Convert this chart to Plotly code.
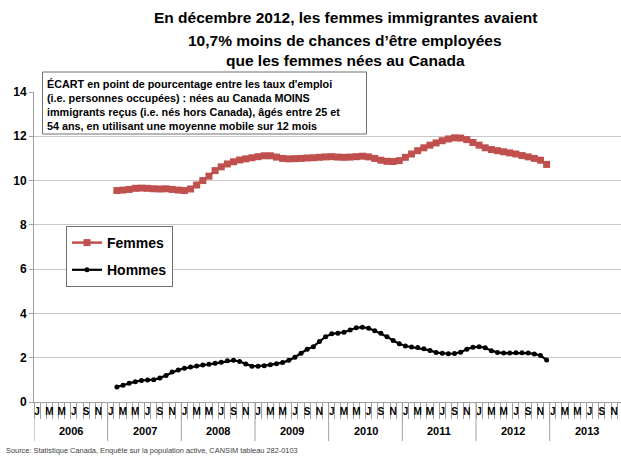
import plotly.graph_objects as go

# ---------------- data ----------------
first_month = "2007-02"   # first plotted month
last_month = "2012-12"

femmes = [9.55, 9.57, 9.60, 9.65, 9.66, 9.65, 9.63, 9.62, 9.63, 9.60, 9.57,
          9.55, 9.62, 9.80, 10.00, 10.20, 10.45, 10.62, 10.75, 10.85, 10.93, 10.98, 11.03,
          11.08, 11.12, 11.12, 11.06, 11.00, 10.98, 10.99, 11.00, 11.02, 11.03, 11.05, 11.07,
          11.08, 11.06, 11.05, 11.06, 11.08, 11.10, 11.07, 11.00, 10.92, 10.87, 10.86, 10.90,
          11.05, 11.20, 11.35, 11.48, 11.60, 11.70, 11.80, 11.88, 11.93, 11.92, 11.85, 11.72,
          11.60, 11.48, 11.40, 11.35, 11.30, 11.25, 11.20, 11.13, 11.07, 11.00, 10.92, 10.73]

hommes = [0.68, 0.76, 0.85, 0.92, 0.97, 0.99, 1.01, 1.08, 1.20, 1.35, 1.45,
          1.52, 1.58, 1.63, 1.67, 1.70, 1.75, 1.80, 1.86, 1.88, 1.83, 1.72, 1.62,
          1.62, 1.64, 1.68, 1.73, 1.78, 1.88, 2.02, 2.20, 2.38, 2.50, 2.73, 2.95,
          3.08, 3.10, 3.15, 3.25, 3.35, 3.38, 3.33, 3.22, 3.10, 2.95, 2.78, 2.63,
          2.53, 2.48, 2.46, 2.40, 2.33, 2.23, 2.20, 2.18, 2.19, 2.25, 2.38, 2.47,
          2.50, 2.45, 2.32, 2.24, 2.21, 2.21, 2.22, 2.22, 2.21, 2.17, 2.10, 1.90]

years = [2006, 2007, 2008, 2009, 2010, 2011, 2012, 2013]
month_letters = ["J", "M", "M", "J", "S", "N"]
y_ticks = [0, 2, 4, 6, 8, 10, 12, 14]

title_lines = ["En décembre 2012, les femmes immigrantes avaient",
               "10,7% moins de chances d’être employées",
               "que les femmes nées au Canada"]
box_lines = ["ÉCART en point de pourcentage entre les taux d'emploi",
             "(i.e. personnes occupées) : nées au Canada MOINS",
             "immigrants reçus (i.e. nés hors Canada), âgés entre 25 et",
             "54 ans, en utilisant une moyenne mobile sur 12 mois"]
source_text = "Source: Statistique Canada, Enquête sur la population active, CANSIM tableau 282-0103"

# ---------------- positions (month index from Jan of first year) ----------------
y0 = years[0]
fy, fm = map(int, first_month.split("-"))
start_idx = (fy - y0) * 12 + (fm - 1)
x_vals = [start_idx + i + 0.5 for i in range(len(femmes))]

n_months = len(years) * 12
major_vals = [m + 0.5 for m in range(0, n_months, 2)]
major_text = [month_letters[(m % 12) // 2] for m in range(0, n_months, 2)]
minor_vals = list(range(0, n_months + 1))

FONT = "Liberation Sans, Arial, sans-serif"
RED = "#C0504D"
GRID = "#C8C8C8"
AX = "#A0A0A0"

W, H = 621, 456
L, T, B = 34, 92, 54
plot_w = W - L
month_px = 6.139
x_max = plot_w / month_px
plot_h = H - T - B


def px_x(px):
    return (px - L) / plot_w


def px_y(py):
    return (H - B - py) / plot_h


fig = go.Figure()
fig.add_trace(go.Scatter(
    x=x_vals, y=femmes, name="Femmes", mode="lines+markers",
    line=dict(color=RED, width=2.5),
    marker=dict(symbol="square", size=7, color=RED),
    legendgroup="f"))
fig.add_trace(go.Scatter(
    x=x_vals, y=hommes, name="Hommes", mode="lines+markers",
    line=dict(color="black", width=2.2),
    marker=dict(symbol="circle", size=5, color="black"),
    legendgroup="h"))

shapes = []
for i in range(len(years) + 1):
    shapes.append(dict(type="line", xref="x", yref="paper",
                       x0=i * 12, x1=i * 12, y0=0, y1=-39 / plot_h,
                       line=dict(color=AX, width=1)))
shapes.append(dict(type="rect", xref="paper", yref="paper",
                   x0=px_x(42.5), x1=px_x(366.5), y0=px_y(134), y1=px_y(72),
                   line=dict(color="#707070", width=1), fillcolor="white", layer="above"))

annotations = []
for yr_i, yr in enumerate(years):
    annotations.append(dict(x=yr_i * 12 + 6, y=px_y(431), xref="x", yref="paper",
                            text=str(yr), showarrow=False,
                            font=dict(family=FONT, size=11, color="black", weight="bold"),
                            xanchor="center", yanchor="middle"))
annotations.append(dict(x=px_x(45), y=px_y(75.5), xref="paper", yref="paper",
                        text="<br>".join(box_lines), showarrow=False, align="left",
                        xanchor="left", yanchor="top",
                        font=dict(family=FONT, size=10.8, color="black", weight="bold")))
annotations.append(dict(x=px_x(4), y=px_y(451), xref="paper", yref="paper",
                        text=source_text, showarrow=False,
                        xanchor="left", yanchor="middle",
                        font=dict(family=FONT, size=7.4, color="#404040")))
for line_text, cy in zip(title_lines, [18, 40, 61]):
    annotations.append(dict(x=px_x(345), y=px_y(cy), xref="paper", yref="paper",
                            text=line_text, showarrow=False,
                            xanchor="center", yanchor="middle",
                            font=dict(family=FONT, size=15.5, color="black", weight="bold")))

fig.update_layout(
    width=W, height=H,
    margin=dict(l=L, r=0, t=T, b=B, autoexpand=False),
    paper_bgcolor="white", plot_bgcolor="white",
    font=dict(family=FONT, color="black"),
    showlegend=True,
    legend=dict(x=px_x(66), y=px_y(226), xanchor="left", yanchor="top",
                bordercolor="#707070", borderwidth=1, bgcolor="white",
                font=dict(family=FONT, size=14, color="black", weight="bold"),
                traceorder="grouped", tracegroupgap=6, itemwidth=30),
    xaxis=dict(range=[0, x_max], tickmode="array", tickvals=major_vals, ticktext=major_text,
               ticks="", showgrid=False, zeroline=False, showline=True, linecolor=AX,
               tickfont=dict(family=FONT, size=10, color="black", weight="bold"),
               minor=dict(tickmode="array", tickvals=minor_vals, ticks="outside",
                          ticklen=16, tickcolor=AX, showgrid=False),
               fixedrange=True, automargin=False),
    yaxis=dict(range=[0, 14], tickmode="array", tickvals=y_ticks, ticks="outside",
               ticklen=4, tickcolor=AX, showgrid=True, gridcolor=GRID, zeroline=False,
               showline=True, linecolor=AX,
               tickfont=dict(family=FONT, size=12, color="black", weight="bold"),
               fixedrange=True, automargin=False),
    shapes=shapes, annotations=annotations,
)

fig.write_html("out.html", config={"displayModeBar": False},
               post_script="document.body.style.margin='0px';document.body.style.overflow='hidden';")
